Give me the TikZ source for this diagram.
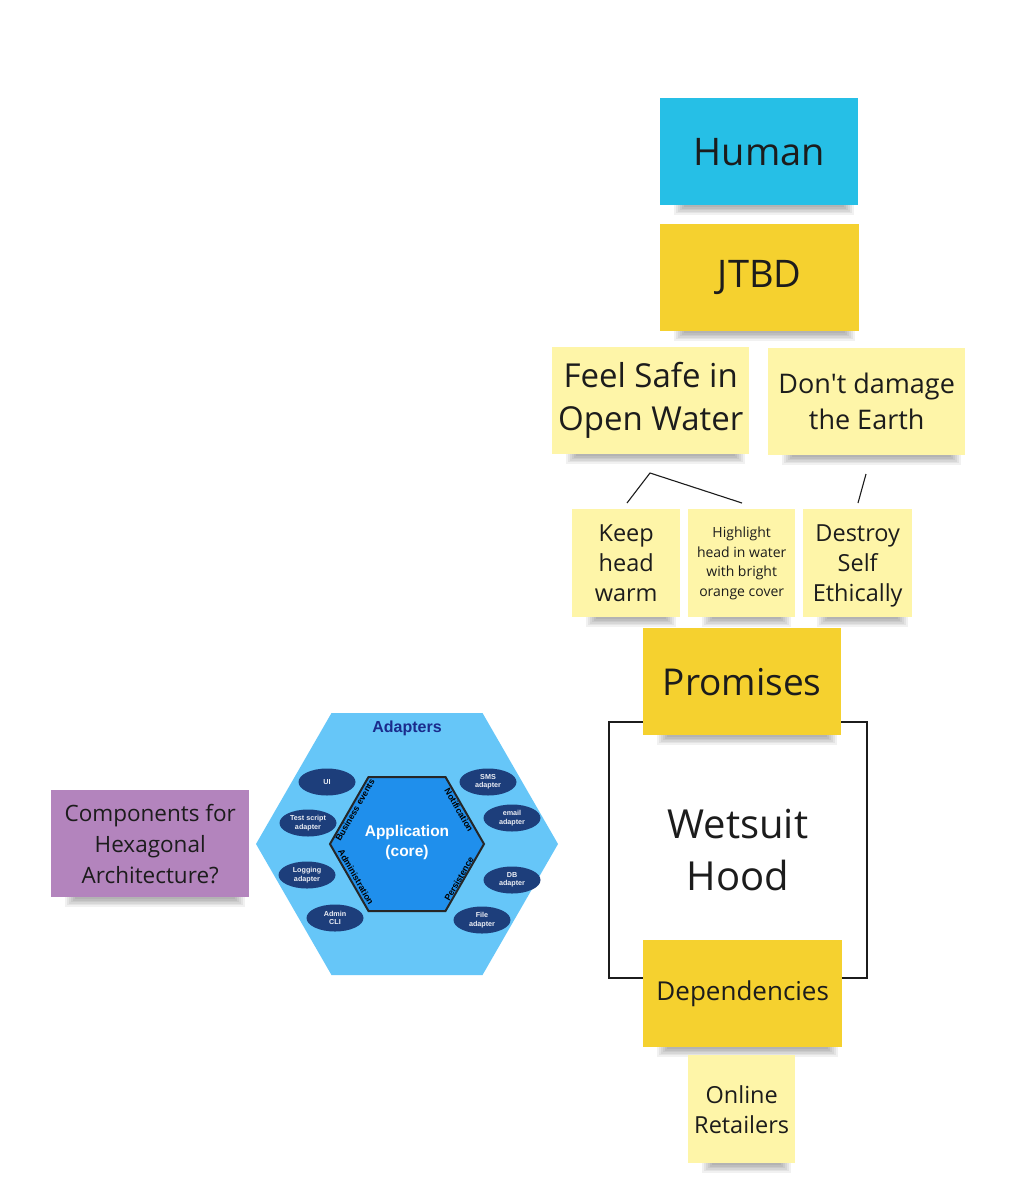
\documentclass[tikz,border=0pt]{standalone}
\usepackage{fontspec}
\setmainfont{Open Sans}[Ligatures=TeXOff]
\newfontfamily\hexfont{Liberation Sans}
\usetikzlibrary{shapes.geometric}

\definecolor{notecyan}{HTML}{26BFE6}
\definecolor{noteyellow}{HTML}{F5D12F}
\definecolor{notepale}{HTML}{FEF5A8}
\definecolor{notepurple}{HTML}{B384BD}
\definecolor{inktext}{HTML}{1C1C1C}
\definecolor{hexlight}{HTML}{66C6F8}
\definecolor{hexcore}{HTML}{1F8FEC}
\definecolor{hexnavy}{HTML}{1D3E7B}
\definecolor{hextitle}{HTML}{1A2B8C}

\tikzset{
  note/.style={inner sep=0pt, align=center, text=inktext},
  adapter/.style={ellipse, fill=hexnavy, minimum width=57, minimum height=27,
    inner sep=0pt, align=center, text=white!92!hexnavy,
    font=\hexfont\bfseries\fontsize{7.2}{8.4}\selectfont},
  portlabel/.style={inner sep=0pt, text=black,
    font=\hexfont\bfseries\fontsize{8.8}{10}\selectfont},
  link/.style={line width=1.1pt, draw=inktext},
}

% sticky note: name, x, y (top-left), width, height, colour, font, text
\newcommand\stickynote[8]{%
  \foreach \k in {0,...,5}{%
    \fill[black,opacity=0.055]
      ({#2+14+2*\k},{#3+#5-12}) rectangle ({#2+#4-4-2*\k},{#3+#5+10-1.6*\k});}
  \node[note, fill=#6, minimum width=#4, minimum height=#5, anchor=north west,
        font=#7] (#1) at (#2,#3) {#8};%
}
\newcommand\nodepth[1]{\raisebox{0pt}[\height][0pt]{#1}}

\begin{document}
\begin{tikzpicture}[x=1pt,y=-1pt]
\useasboundingbox[fill=white] (0,0) rectangle (1026,1200);

% --- value chain on the right ---
\stickynote{human}{660}{98}{198}{107}{notecyan}{\fontsize{38}{46}\selectfont}{Human}
\stickynote{jtbd}{660}{224}{199}{107}{noteyellow}{\fontsize{38}{46}\selectfont}{JTBD}
\stickynote{safe}{552}{347}{197}{107}{notepale}{\fontsize{33}{43}\selectfont}{Feel Safe in\\Open Water}
\stickynote{earth}{768}{348}{197}{107}{notepale}{\fontsize{27}{36}\selectfont}{Don't damage\\the Earth}

\coordinate (fork) at (650,473);
\coordinate (warmend) at (627,503);
\coordinate (brightend) at (742,503);
\coordinate (earthfoot) at (866,474);
\coordinate (ethicend) at (858,503);
\draw[link] (warmend) -- (fork) -- (brightend);
\draw[link] (earthfoot) -- (ethicend);

\stickynote{warm}{572}{509}{108}{108}{notepale}{\fontsize{23.5}{30}\selectfont}{Keep\\head\\warm}
\stickynote{bright}{688}{509}{107}{108}{notepale}{\fontsize{14}{19.5}\selectfont}{Highlight\\head in water\\with bright\\orange cover}
\stickynote{ethic}{803}{509}{109}{108}{notepale}{\fontsize{23.5}{30}\selectfont}{Destroy\\Self\\\nodepth{Ethically}}

% product frame
\node[draw=inktext, line width=1.6pt, minimum width=258, minimum height=256,
      anchor=north west, inner sep=0pt, align=center, text=inktext,
      font=\fontsize{40}{52}\selectfont] (hood) at (608,721) {Wetsuit\\Hood};

\stickynote{promises}{643}{628}{198}{107}{noteyellow}{\fontsize{37}{44}\selectfont}{Promises}
\stickynote{deps}{643}{940}{199}{107}{noteyellow}{\fontsize{26}{32}\selectfont}{Dependencies}
\stickynote{retail}{688}{1055}{107}{108}{notepale}{\fontsize{23.5}{30}\selectfont}{Online\\Retailers}

% --- question note ---
\stickynote{question}{51}{790}{198}{107}{notepurple}{\fontsize{22.5}{31}\selectfont}{Components for\\Hexagonal\\Architecture?}

% --- hexagonal architecture sketch ---
\fill[hexlight] (558,844) -- (482.5,713) -- (331.5,713) -- (256,844)
                -- (331.5,975) -- (482.5,975) -- cycle;
\node[font=\hexfont\bfseries\fontsize{16}{18}\selectfont, text=hextitle] (adapters) at (407,728) {Adapters};
\draw[fill=hexcore, line width=2pt, draw=black!85]
  (484,844) -- (445.5,777) -- (368.5,777) -- (330,844)
  -- (368.5,911) -- (445.5,911) -- cycle;
\node[text=white, align=center, font=\hexfont\bfseries\fontsize{15.5}{20}\selectfont] (core) at (407,842) {Application\\(core)};

\node[portlabel, rotate=60]  (bizev)  at (355,810) {Business events};
\node[portlabel, rotate=-60] (notif)  at (459,810) {Notification};
\node[portlabel, rotate=-60] (admin)  at (356,877) {Administration};
\node[portlabel, rotate=60]  (persist) at (459,879) {Persistence};

\node[adapter] (ui)      at (327,782) {UI};
\node[adapter] (tests)   at (308,823) {Test script\\adapter};
\node[adapter] (logging) at (307,875) {Logging\\adapter};
\node[adapter] (cli)     at (335,918) {Admin\\CLI};
\node[adapter] (sms)     at (488,782) {SMS\\adapter};
\node[adapter] (email)   at (512,818) {email\\adapter};
\node[adapter] (db)      at (512,880) {DB\\adapter};
\node[adapter] (file)    at (482,920) {File\\adapter};
\end{tikzpicture}
\end{document}
